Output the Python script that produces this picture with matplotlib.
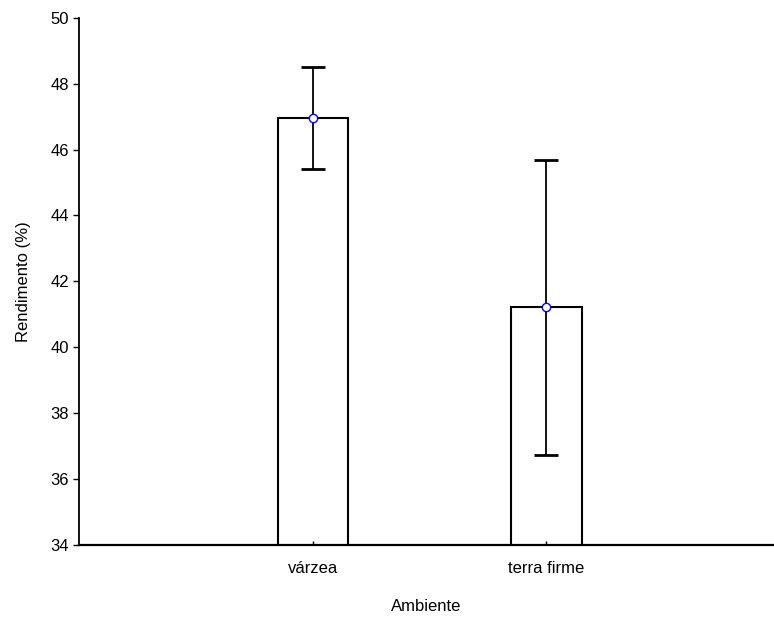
import numpy as np
import matplotlib.pyplot as plt

plt.rcParams['font.family'] = ['Liberation Sans', 'DejaVu Sans']

# dados: média e erro por ambiente
ambientes = ["várzea", "terra firme"]
media = [46.95, 41.21]
erro = [1.55, 4.47]

fig = plt.figure(figsize=(7.74, 6.19), dpi=100)
ax = fig.add_axes([0.102, 0.12, 0.897, 0.851])

x = np.arange(1, len(ambientes) + 1)
ax.bar(x, media, width=0.3, color='white', edgecolor='black', linewidth=1.5, zorder=1)
ax.errorbar(x, media, yerr=erro, fmt='none', ecolor='black', elinewidth=1.3,
            capsize=8.5, capthick=2, zorder=2)
ax.plot(x, media, 'o', markersize=6, markerfacecolor='white',
        markeredgecolor='blue', markeredgewidth=1, zorder=3)

ax.set_xlim(0, 2.97)
ax.set_ylim(34, 50)
ax.set_yticks(np.arange(34, 51, 2))
ax.set_xticks(x)
ax.set_xticklabels(ambientes)

ax.spines['top'].set_visible(False)
ax.spines['right'].set_visible(False)
ax.spines['left'].set_linewidth(1.3)
ax.spines['bottom'].set_linewidth(1.6)
ax.tick_params(axis='y', direction='out', length=4, width=1, labelsize=12, pad=3)
ax.tick_params(axis='x', direction='in', length=3, width=1, labelsize=12, pad=12)

ax.set_xlabel("Ambiente", fontsize=12, labelpad=16)
ax.set_ylabel("Rendimento (%)", fontsize=12, labelpad=14)

fig.savefig("out.png", dpi=100)
